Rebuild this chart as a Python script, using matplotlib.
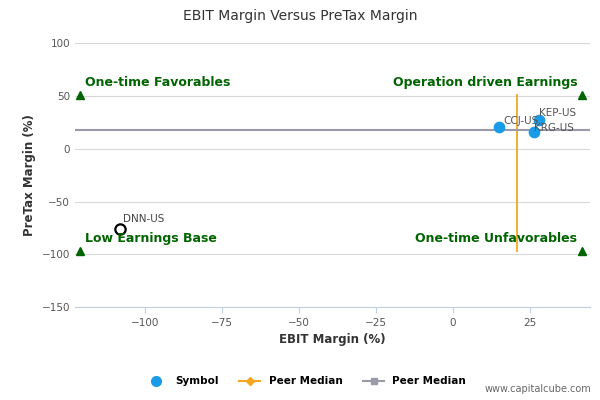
import matplotlib
matplotlib.use('Agg')
import matplotlib.pyplot as plt
from matplotlib.lines import Line2D

# data
symbols = ["CCJ-US", "KEP-US", "KRG-US"]
ebit = [15, 28, 26.5]
pretax = [20.5, 27, 16]
dnn_ebit, dnn_pretax = -108, -76
peer_ebit_median = 21
peer_pretax_median = 18
corner_x = [-121, 42]
corner_y = [51, -97]
corner_labels = ["One-time Favorables", "Operation driven Earnings",
                 "Low Earnings Base", "One-time Unfavorables"]

fig = plt.figure(figsize=(6, 4), dpi=100)
ax = fig.add_axes([0.125, 0.232, 0.858, 0.66])
ax.set_xlim(-122.7, 44.5)
ax.set_ylim(-150, 100)

ax.set_yticks([-150, -100, -50, 0, 50, 100])
ax.set_xticks([-100, -75, -50, -25, 0, 25])
ax.grid(axis='y', color='#d8d8d8', linewidth=0.8)
ax.set_axisbelow(True)
for s in ['top', 'right', 'left']:
    ax.spines[s].set_visible(False)
ax.spines['bottom'].set_color('#c0d0e0')
ax.tick_params(axis='both', labelsize=7.5, colors='#555555', length=0)
ax.tick_params(axis='x', length=4, color='#c0d0e0')

ax.plot([peer_ebit_median, peer_ebit_median], [corner_y[0], corner_y[1]],
        color='#f5a623', linewidth=1.3, zorder=2)
ax.plot([-122.7, 44.5], [peer_pretax_median, peer_pretax_median],
        color='#9a9aaa', linewidth=1.5, zorder=2)

ax.scatter(ebit, pretax, s=55, color='#1a9be8', zorder=3)
ax.scatter([dnn_ebit], [dnn_pretax], s=55, facecolor='white',
           edgecolor='black', linewidth=1.6, zorder=3)
ax.annotate("DNN-US", (dnn_ebit, dnn_pretax), xytext=(2, 5),
            textcoords='offset points', fontsize=7.5, color='#444444')
offs = [(3, 2), (0, 3), (0, 1)]
for s, x, y, o in zip(symbols, ebit, pretax, offs):
    ax.annotate(s, (x, y), xytext=o, textcoords='offset points',
                fontsize=7.5, color='#555555')

green = '#006400'
pos = [(corner_x[0], corner_y[0], 'left'), (corner_x[1], corner_y[0], 'right'),
       (corner_x[0], corner_y[1], 'left'), (corner_x[1], corner_y[1], 'right')]
for (x, y, ha), lab in zip(pos, corner_labels):
    ax.plot(x, y, marker='^', color=green, markersize=6, zorder=3)
    dx = 1.5 if ha == 'left' else -1.5
    ax.text(x + dx, y + 6, lab, color=green, fontsize=9, fontweight='bold',
            ha=ha, va='bottom')

ax.set_xlabel("EBIT Margin (%)", fontsize=8.5, fontweight='bold', color='#333333')
ax.set_ylabel("PreTax Margin (%)", fontsize=8.5, fontweight='bold', color='#333333')
fig.text(0.5, 0.95, "EBIT Margin Versus PreTax Margin", ha='center',
         fontsize=10, color='#333333')

handles = [
    Line2D([], [], marker='o', color='#1a9be8', linestyle='none', markersize=7),
    Line2D([], [], marker='D', color='#f5a623', markersize=4, linewidth=1.5),
    Line2D([], [], marker='s', color='#9a9aaa', markersize=5, linewidth=1.5),
]
fig.legend(handles, ["Symbol", "Peer Median", "Peer Median"], loc='center',
           bbox_to_anchor=(0.51, 0.047), ncol=3, frameon=False,
           prop={'size': 7.5, 'weight': 'bold'}, handlelength=2, columnspacing=2)
fig.text(0.985, 0.02, "www.capitalcube.com", ha='right', fontsize=7, color='#666666')

fig.savefig("out.png", dpi=100)
